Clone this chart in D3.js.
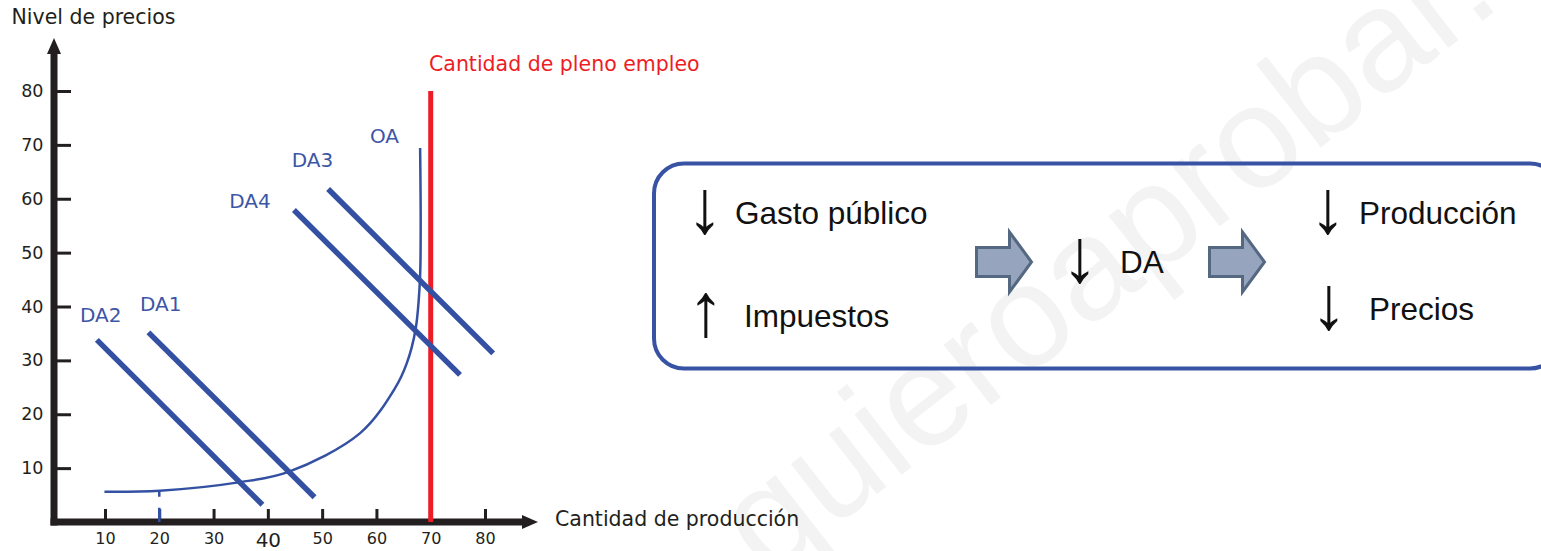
<!DOCTYPE html>
<html>
<head>
<meta charset="utf-8">
<script src="https://cdn.jsdelivr.net/npm/d3@7"></script>
<style>
    body { margin: 0; background: #fff; }
    svg { display: block; }
</style>
</head>
<body>
<svg id="chart" width="1541" height="551"></svg>
<script>
// Tick values of both axes
var xTicks = [10, 20, 30, 40, 50, 60, 70, 80];
var yTicks = [10, 20, 30, 40, 50, 60, 70, 80];

// Aggregate demand lines, [quantity, price] at both ends, label anchor in data units
var demandNames = ["DA2", "DA1", "DA4", "DA3"];
var demandStart = [[8.5, 33.8], [18.0, 35.2], [44.8, 57.9], [51.1, 61.8]];
var demandEnd = [[39.0, 3.2], [48.6, 4.6], [75.4, 27.3], [81.5, 31.3]];
var demandLabelAt = [[5.4, 37.2], [16.45, 39.2], [32.9, 58.2], [44.4, 65.9]];

// Aggregate supply curve (OA)
var supplyQ = [9.9, 20.1, 34.9, 43.8, 57.0, 63.4, 65.6, 67.2, 68.0, 68.15, 68.05];
var supplyP = [5.6, 5.8, 7.4, 9.3, 16.5, 24.8, 29.5, 35.7, 44.6, 54.2, 69.4];
var supplyLabelAt = [58.8, 70.3];

var fullEmployment = 70;
var fullEmploymentTop = 80;

// Text of the flow box
var causes = [["↓", "Gasto público"], ["↑", "Impuestos"]];
var middle = ["↓", "DA"];
var effects = [["↓", "Producción"], ["↓", "Precios"]];

var svg = d3.select("#chart");

var config = {
    blue: "#3350a2",
    blueText: "#3d55a6",
    red: "#ee1d25",
    ink: "#231f20",
    verdana: "'DejaVu Sans', Verdana, sans-serif",
    arial: "'Liberation Sans', Arial, sans-serif"
};

var x = d3.scaleLinear().domain([0, 80]).range([50.7, 485]);
var y = d3.scaleLinear().domain([0, 80]).range([522, 91]);

// Watermark, very faint, sits behind everything
svg.append("text")
    .attr("transform", "translate(767,580) rotate(-38)")
    .attr("font-family", config.arial)
    .attr("font-size", 145)
    .attr("fill", "#f3f3f3")
    .text("quieroaprobar.es");

// ---- axes ----
var yAxis = svg.append("g")
    .attr("transform", "translate(54,0)")
    .call(d3.axisLeft(y).tickValues(yTicks).tickSize(-17).tickPadding(10.5));

var xAxis = svg.append("g")
    .attr("transform", "translate(0,522)")
    .call(d3.axisBottom(x).tickValues(xTicks).tickSize(-13).tickPadding(11));

[xAxis, yAxis].forEach(function (ax) {
    ax.select(".domain").remove();
    ax.selectAll(".tick line").attr("stroke", config.ink).attr("stroke-width", 3);
    ax.selectAll(".tick text")
        .attr("fill", config.ink)
        .attr("font-family", config.verdana)
        .attr("font-size", 16);
});
yAxis.selectAll(".tick text").attr("font-size", 17.5);
xAxis.selectAll(".tick text").filter(function (d) { return d === 40; }).attr("font-size", 20);
xAxis.selectAll(".tick line").filter(function (d) { return d === 20; }).attr("stroke", config.blue);

// thick axis lines with arrow heads
svg.append("line")
    .attr("x1", 54).attr("x2", 54).attr("y1", 525.5).attr("y2", 52)
    .attr("stroke", config.ink).attr("stroke-width", 7);
svg.append("path")
    .attr("d", "M54,38 L47,54 L61,54 Z")
    .attr("fill", config.ink);
svg.append("line")
    .attr("x1", 50.5).attr("x2", 524).attr("y1", 522).attr("y2", 522)
    .attr("stroke", config.ink).attr("stroke-width", 7);
svg.append("path")
    .attr("d", "M538,522 L522,515 L522,529 Z")
    .attr("fill", config.ink);

svg.append("text")
    .attr("x", 11.5).attr("y", 24.3)
    .attr("font-family", config.verdana).attr("font-size", 20.5)
    .attr("fill", config.ink)
    .text("Nivel de precios");

svg.append("text")
    .attr("x", 555).attr("y", 525.7)
    .attr("font-family", config.verdana).attr("font-size", 20.5)
    .attr("fill", config.ink)
    .text("Cantidad de producción");

// ---- full employment line ----
svg.append("line")
    .attr("x1", x(fullEmployment)).attr("x2", x(fullEmployment))
    .attr("y1", y(fullEmploymentTop)).attr("y2", y(0))
    .attr("stroke", config.red).attr("stroke-width", 5);

svg.append("text")
    .attr("x", x(fullEmployment) - 1.7).attr("y", 71)
    .attr("font-family", config.verdana).attr("font-size", 20.5)
    .attr("fill", config.red)
    .text("Cantidad de pleno empleo");

// ---- supply curve ----
var supply = supplyQ.map(function (q, i) { return [q, supplyP[i]]; });

svg.append("path")
    .datum(supply)
    .attr("fill", "none")
    .attr("stroke", config.blue)
    .attr("stroke-width", 2.5)
    .attr("d", d3.line()
        .x(function (d) { return x(d[0]); })
        .y(function (d) { return y(d[1]); })
        .curve(d3.curveCatmullRom.alpha(0.5)));

// little dashed drop from OA at quantity 20
svg.append("line")
    .attr("x1", x(20)).attr("x2", x(20))
    .attr("y1", y(supplyP[1])).attr("y2", y(0))
    .attr("stroke", config.blue).attr("stroke-width", 2.5)
    .attr("stroke-dasharray", "6,11,30");

svg.append("text")
    .attr("x", x(supplyLabelAt[0])).attr("y", y(supplyLabelAt[1]))
    .attr("font-family", config.verdana).attr("font-size", 20)
    .attr("fill", config.blueText)
    .text("OA");

// ---- demand lines ----
var demand = svg.append("g");
demandNames.forEach(function (name, i) {
    demand.append("line")
        .attr("x1", x(demandStart[i][0])).attr("y1", y(demandStart[i][1]))
        .attr("x2", x(demandEnd[i][0])).attr("y2", y(demandEnd[i][1]))
        .attr("stroke", config.blue).attr("stroke-width", 5.5);
    demand.append("text")
        .attr("x", x(demandLabelAt[i][0])).attr("y", y(demandLabelAt[i][1]))
        .attr("font-family", config.verdana).attr("font-size", 20)
        .attr("fill", config.blueText)
        .text(name);
});

// ---- flow box ----
svg.append("rect")
    .attr("x", 654).attr("y", 163.5)
    .attr("width", 906).attr("height", 205)
    .attr("rx", 30)
    .attr("fill", "none")
    .attr("stroke", "#3953a4").attr("stroke-width", 4);

function arrowText(pair, ax, tx, baseline) {
    // tall thin arrow glyph
    svg.append("text")
        .attr("transform", "translate(" + ax + "," + (baseline + 9) + ") scale(0.95,1)")
        .attr("text-anchor", "middle")
        .attr("font-family", config.arial)
        .attr("font-size", 76)
        .attr("fill", "#111")
        .text(pair[0]);
    svg.append("text")
        .attr("x", tx).attr("y", baseline)
        .attr("font-family", config.arial)
        .attr("font-size", 31.5)
        .attr("fill", "#111")
        .text(pair[1]);
}

arrowText(causes[0], 705, 735, 223.5);
arrowText(causes[1], 706, 744, 327);
arrowText(middle, 1080, 1120, 272.5);
arrowText(effects[0], 1328, 1359, 224);
arrowText(effects[1], 1329, 1369, 319.5);

// block arrows between the steps
function blockArrow(x0, cy) {
    var pts = [[0, -14.5], [33, -14.5], [33, -30], [55, 0], [33, 30], [33, 14.5], [0, 14.5]];
    svg.append("path")
        .attr("d", d3.line()(pts.map(function (p) { return [x0 + p[0], cy + p[1]]; })) + "Z")
        .attr("fill", "#96a4bd")
        .attr("stroke", "#556882")
        .attr("stroke-width", 3)
        .attr("stroke-linejoin", "miter");
}
blockArrow(976.5, 262);
blockArrow(1209.5, 262);
</script>
</body>
</html>
